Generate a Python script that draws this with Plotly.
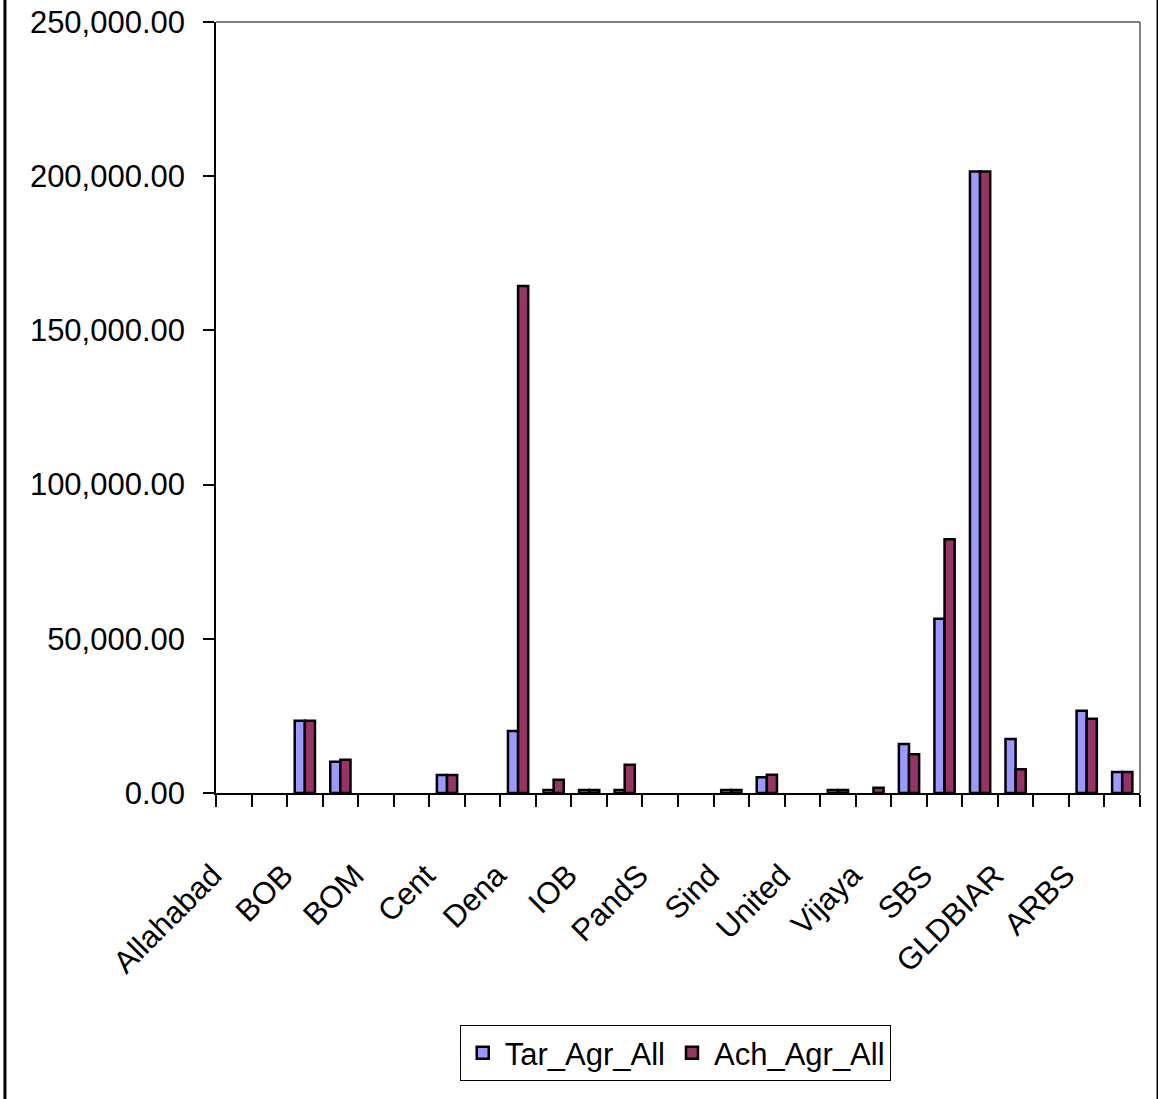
import plotly.graph_objects as go

# Bank-wise agricultural lending: target vs achievement
bank_labels = ["Allahabad", "BOB", "BOM", "Cent", "Dena", "IOB", "PandS",
               "Sind", "United", "Vijaya", "SBS", "GLDBIAR", "ARBS"]

# 26 reporting slots; only every second slot carries a printed label
tar_agr_all = [None, None, 23400, 10100, None, None, 5800, None,
               20100, 1000, 1000, 1000, None, None, 1000, 5100,
               None, 1000, None, 15900, 56500, 201500, 17500, None,
               26700, 6800]
ach_agr_all = [None, None, 23400, 10800, None, None, 5800, None,
               164400, 4300, 1000, 9200, None, None, 1000, 5900,
               None, 1000, 1700, 12600, 82300, 201500, 7700, None,
               24100, 6800]

slots = list(range(len(tar_agr_all)))
label_slots = slots[::2]

FONT = "Liberation Sans, Arial, sans-serif"
FSIZE = 31

fig = go.Figure()
fig.add_trace(go.Bar(
    x=slots, y=tar_agr_all, name="Tar_Agr_All",
    marker=dict(color="#9999FF", line=dict(color="black", width=2.5)),
))
fig.add_trace(go.Bar(
    x=slots, y=ach_agr_all, name="Ach_Agr_All",
    marker=dict(color="#993366", line=dict(color="black", width=2.5)),
))

# plot-area frame: grey top and right edges
fig.add_shape(type="line", xref="paper", yref="paper", x0=0, x1=1, y0=1, y1=1,
              line=dict(color="#808080", width=2))
fig.add_shape(type="line", xref="paper", yref="paper", x0=1, x1=1, y0=0, y1=1,
              line=dict(color="#808080", width=2))
# outer chart border (left and right sides)
for xp in (-0.2284, 1.0195):
    fig.add_shape(type="line", xref="paper", yref="paper", x0=xp, x1=xp,
                  y0=-1, y1=2, line=dict(color="black", width=3))

fig.update_layout(
    width=1158, height=1099,
    margin=dict(l=216, r=18, t=22, b=306),
    paper_bgcolor="white", plot_bgcolor="white",
    font=dict(family=FONT, size=FSIZE, color="black"),
    barmode="group", bargap=0.43, bargroupgap=0,
    showlegend=True,
    legend=dict(
        orientation="h", x=0.497, xanchor="center", y=-0.301, yanchor="top",
        bordercolor="black", borderwidth=1, bgcolor="white",
        font=dict(family=FONT, size=FSIZE, color="black"),
        itemwidth=34, tracegroupgap=0,
    ),
    xaxis=dict(
        range=[-0.5, len(slots) - 0.5],
        tickmode="array", tickvals=label_slots, ticktext=bank_labels,
        tickangle=-45, ticks="", showgrid=False, zeroline=False,
        showline=True, linecolor="black", linewidth=1.5,
        automargin=False, ticklabelstandoff=50, ticklabelshift=-21,
        tickfont=dict(family=FONT, size=FSIZE, color="black"),
        minor=dict(tickmode="linear", tick0=-0.5, dtick=1, ticks="outside",
                   ticklen=12, tickwidth=1.5, tickcolor="black", showgrid=False),
    ),
    yaxis=dict(
        range=[0, 250000], tickmode="linear", tick0=0, dtick=50000,
        tickformat=",.2f", ticks="outside", ticklen=11, tickwidth=1.5,
        tickcolor="black", showgrid=False, zeroline=False,
        showline=True, linecolor="black", linewidth=1.5,
        automargin=False, ticklabelstandoff=12,
        tickfont=dict(family=FONT, size=FSIZE, color="black"),
    ),
)

fig.write_html("out.html")
